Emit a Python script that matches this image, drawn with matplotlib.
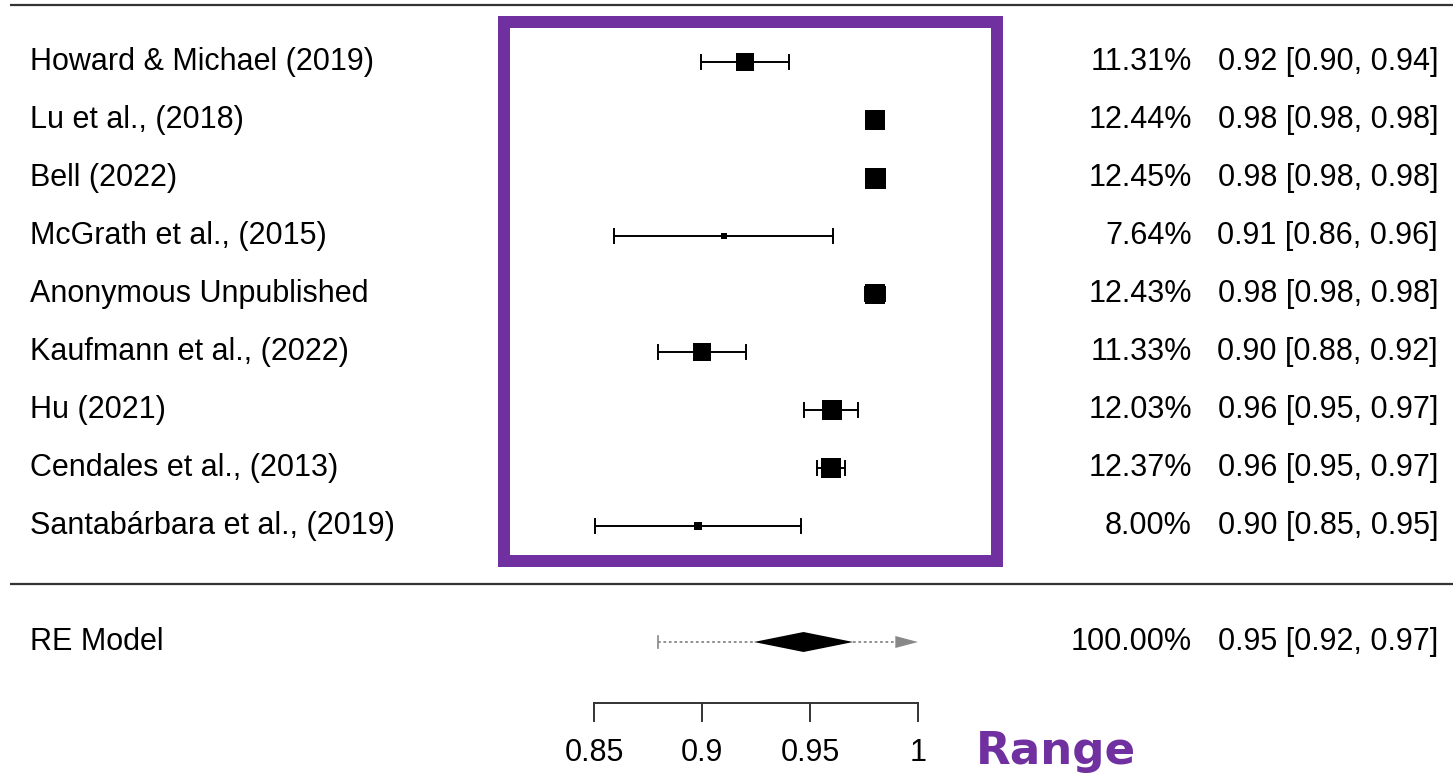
import numpy as np
import matplotlib
matplotlib.use('Agg')
import matplotlib.pyplot as plt
from matplotlib.patches import Rectangle, Polygon
from matplotlib.transforms import blended_transform_factory

studies = ['Howard & Michael (2019)', 'Lu et al., (2018)', 'Bell (2022)',
           'McGrath et al., (2015)', 'Anonymous Unpublished', 'Kaufmann et al., (2022)',
           'Hu (2021)', 'Cendales et al., (2013)', 'Santabárbara et al., (2019)']
est = [0.920, 0.980, 0.980, 0.910, 0.980, 0.900, 0.960, 0.9597, 0.898]
ci_lo = [0.8994, 0.978, 0.978, 0.8594, 0.9755, 0.8797, 0.9474, 0.9532, 0.8506]
ci_hi = [0.9404, 0.982, 0.982, 0.9608, 0.9845, 0.9204, 0.9724, 0.9664, 0.9460]
weights = [11.31, 12.44, 12.45, 7.64, 12.43, 11.33, 12.03, 12.37, 8.00]

# random-effects summary
re_est = 0.947
re_lo, re_hi = 0.924, 0.970
pi_lo, pi_hi = 0.8796, 1.0

ticks = [0.85, 0.9, 0.95, 1]
tick_labels = ['0.85', '0.9', '0.95', '1']

W, H = 1453, 776
fig = plt.figure(figsize=(W / 100, H / 100), dpi=100)
ax = fig.add_axes([0, 0, 1, 1])
ax.axis('off')

# x in effect units, y in rows counted from the top
upp = 0.15 / 324.0
x0 = 0.85 - 594 * upp
ax.set_xlim(x0, x0 + W * upp)
row0, rowh = 62.0, 58.0
ax.set_ylim((H - row0) / rowh, -row0 / rowh)

def px(x):
    return x0 + x * upp

FS = 22
font = 'Liberation Sans'
left = blended_transform_factory(fig.transFigure, ax.transData)

# horizontal rules
ax.plot([px(10), px(W)], [-0.98, -0.98], color='#333333', lw=1.6, solid_capstyle='butt')
ax.plot([px(10), px(W)], [9.0, 9.0], color='#333333', lw=1.6, solid_capstyle='butt')

cap = 7.0 / rowh
wmin, wmax = min(weights), max(weights)
for i, name in enumerate(studies):
    y = i
    ax.plot([ci_lo[i], ci_hi[i]], [y, y], color='black', lw=1.4)
    for cx in (ci_lo[i], ci_hi[i]):
        ax.plot([cx, cx], [y - cap, y + cap], color='black', lw=1.4)
    size_px = 6 + (weights[i] - wmin) * (21 - 6) / (wmax - wmin)
    ax.plot(est[i], y, marker='s', color='black', markersize=size_px * 0.72, mew=0)
    ax.text(30 / W, y, name, transform=left, fontsize=FS, family=font,
            ha='left', va='center')
    ax.text(1192 / W, y, f'{weights[i]:.2f}%', transform=left, fontsize=FS,
            family=font, ha='right', va='center')
    ax.text(1438 / W, y, f'{est[i]:.2f} [{ci_lo[i]:.2f}, {ci_hi[i]:.2f}]',
            transform=left, fontsize=FS, family=font, ha='right', va='center')

# RE model row
yr = 10.0
ax.plot([pi_lo, re_lo], [yr, yr], color='#888888', lw=1.3, ls=(0, (1.5, 1.5)))
ax.plot([re_hi, pi_hi - 0.008], [yr, yr], color='#888888', lw=1.3, ls=(0, (1.5, 1.5)))
ax.plot([pi_lo, pi_lo], [yr - 6 / rowh, yr + 6 / rowh], color='#888888', lw=1.2)
ax.add_patch(Polygon([[pi_hi - 0.0105, yr - 6 / rowh], [pi_hi, yr],
                      [pi_hi - 0.0105, yr + 6 / rowh]], closed=True,
                     color='#888888', lw=0))
ax.add_patch(Polygon([[re_lo, yr], [re_est, yr - 10 / rowh], [re_hi, yr],
                      [re_est, yr + 10 / rowh]], closed=True, color='black', lw=0))
ax.text(30 / W, yr, 'RE Model', transform=left, fontsize=FS, family=font,
        ha='left', va='center')
ax.text(1192 / W, yr, f'{sum(weights):.2f}%', transform=left, fontsize=FS,
        family=font, ha='right', va='center')
ax.text(1438 / W, yr, f'{re_est:.2f} [{re_lo:.2f}, {re_hi:.2f}]', transform=left,
        fontsize=FS, family=font, ha='right', va='center')

# x axis
ya = (703 - row0) / rowh
tl = 18 / rowh
ax.plot([ticks[0], ticks[-1]], [ya, ya], color='#333333', lw=1.4)
for t, lab in zip(ticks, tick_labels):
    ax.plot([t, t], [ya, ya + tl], color='#333333', lw=1.4)
    ax.text(t, (753 - row0) / rowh, lab, fontsize=FS, family=font,
            ha='center', va='center')

# highlight box around the study estimates
purple = '#7030A0'
ax.add_patch(Rectangle((px(504), (22 - row0) / rowh), px(997) - px(504),
                       (561 - 22) / rowh, fill=False, edgecolor=purple,
                       lw=12 * 0.72, joinstyle='miter'))
ax.text(976 / W, (764 - row0) / rowh, 'Range', transform=left, fontsize=32.5,
        family='DejaVu Sans', weight='bold', color=purple, ha='left',
        va='baseline')

fig.savefig('out.png', dpi=100)
